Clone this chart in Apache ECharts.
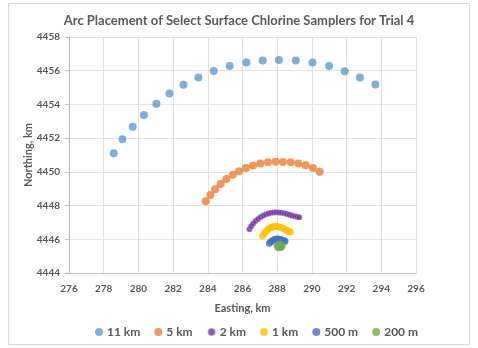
<!DOCTYPE html>
<html>
<head>
<meta charset="utf-8">
<script src="https://cdn.jsdelivr.net/npm/echarts@6/dist/echarts.min.js"></script>
<style>
  html, body { margin: 0; padding: 0; background: #fff; }
  #chart { width: 478px; height: 348px; }
</style>
</head>
<body>
<div id="chart"></div>
<script>
// Arc sampler positions [easting km, northing km]
const arc11km = [
  [278.58, 4451.10], [279.08, 4451.93], [279.67, 4452.67], [280.32, 4453.38],
  [281.04, 4454.04], [281.79, 4454.65], [282.60, 4455.17], [283.46, 4455.60],
  [284.34, 4455.99], [285.26, 4456.28], [286.22, 4456.49], [287.16, 4456.60],
  [288.10, 4456.64], [289.07, 4456.60], [290.03, 4456.49], [290.99, 4456.28],
  [291.89, 4455.97], [292.77, 4455.60], [293.66, 4455.18]
]
const arc5km = [
  [283.88, 4448.26], [284.15, 4448.62], [284.42, 4448.97], [284.74, 4449.28],
  [285.07, 4449.58], [285.44, 4449.83], [285.80, 4450.03], [286.20, 4450.23],
  [286.61, 4450.37], [287.03, 4450.49], [287.47, 4450.57], [287.91, 4450.60],
  [288.33, 4450.59], [288.78, 4450.57], [289.22, 4450.49], [289.64, 4450.39],
  [290.06, 4450.23], [290.45, 4450.01]
]
const arc2km = [
  [286.40, 4446.60], [286.50, 4446.78], [286.62, 4446.94], [286.75, 4447.08],
  [286.90, 4447.21], [287.05, 4447.32], [287.20, 4447.41], [287.35, 4447.48],
  [287.50, 4447.53], [287.65, 4447.57], [287.80, 4447.59], [287.95, 4447.60],
  [288.10, 4447.59], [288.25, 4447.57], [288.40, 4447.54], [288.55, 4447.50],
  [288.70, 4447.46], [288.85, 4447.41], [289.00, 4447.37], [289.15, 4447.33],
  [289.27, 4447.30]
]
const arc1km = [
  [287.15, 4446.20], [287.25, 4446.35], [287.35, 4446.47], [287.45, 4446.57],
  [287.55, 4446.65], [287.65, 4446.70], [287.75, 4446.74], [287.85, 4446.76],
  [287.95, 4446.76], [288.05, 4446.75], [288.15, 4446.73], [288.25, 4446.69],
  [288.35, 4446.64], [288.45, 4446.58], [288.55, 4446.53], [288.65, 4446.48],
  [288.75, 4446.43]
]
const arc500m = [
  [287.55, 4445.76], [287.62, 4445.84], [287.70, 4445.90], [287.80, 4445.96],
  [287.90, 4446.00], [288.00, 4446.01], [288.10, 4446.00], [288.20, 4445.98],
  [288.30, 4445.95], [288.40, 4445.91], [288.45, 4445.88]
]
const arc200m = [
  [288.08, 4445.60], [288.14, 4445.58], [288.20, 4445.60]
]

const seriesNames = ['11 km', '5 km', '2 km', '1 km', '500 m', '200 m']
const seriesData = [arc11km, arc5km, arc2km, arc1km, arc500m, arc200m]
const colors = ['#5B9BD5', '#ED7D31', '#7030A0', '#FFC000', '#4472C4', '#70AD47']
const sizes = [8, 8, 6, 7, 7, 10]

const textGrey = '#595959'
const font = 'Lato, "Open Sans", sans-serif'

const chart = echarts.init(document.getElementById('chart'))

const option = {
  animation: false,
  title: {
    text: 'Arc Placement of Select Surface Chlorine Samplers for Trial 4',
    left: 'center',
    top: 9,
    textStyle: { fontFamily: font, fontSize: 13, fontWeight: 'bold', color: textGrey }
  },
  graphic: [{
    type: 'rect',
    shape: { x: 8.5, y: 3.5, width: 461, height: 341 },
    style: { fill: 'none', stroke: '#D9D9D9', lineWidth: 1 },
    silent: true
  }],
  grid: { left: 69, right: 62, top: 37, bottom: 75 },
  legend: {
    bottom: 5,
    left: 90,
    itemGap: 14,
    itemWidth: 8,
    itemHeight: 8,
    icon: 'circle',
    data: seriesNames,
    textStyle: { fontFamily: font, fontSize: 12, fontWeight: 'bold', color: textGrey, padding: [0, 0, 0, -1] }
  },
  xAxis: {
    type: 'value',
    min: 276,
    max: 296,
    interval: 2,
    name: 'Easting, km',
    nameLocation: 'middle',
    nameGap: 30,
    nameTextStyle: { fontFamily: font, fontSize: 11, fontWeight: 'bold', color: textGrey },
    axisLine: { show: true, lineStyle: { color: '#BFBFBF' } },
    axisTick: { show: false },
    axisLabel: { fontFamily: font, fontSize: 10, fontWeight: 'bold', color: textGrey, margin: 11 },
    splitLine: { show: true, lineStyle: { color: '#E3E3E3' } }
  },
  yAxis: {
    type: 'value',
    min: 4444,
    max: 4458,
    interval: 2,
    name: 'Northing, km',
    nameLocation: 'middle',
    nameGap: 35,
    nameMoveOverlap: false,
    nameTextStyle: { fontFamily: font, fontSize: 11, fontWeight: 'bold', color: textGrey },
    axisLine: { show: true, lineStyle: { color: '#BFBFBF' } },
    axisTick: { show: true, length: 4, inside: false, lineStyle: { color: '#BFBFBF' } },
    axisLabel: {
      fontFamily: font, fontSize: 10, fontWeight: 'bold', color: textGrey, margin: 9,
      formatter: v => String(v)
    },
    splitLine: { show: true, lineStyle: { color: '#E3E3E3' } }
  },
  series: seriesNames.map((name, i) => ({
    name,
    type: 'scatter',
    data: seriesData[i],
    symbol: 'circle',
    symbolSize: sizes[i],
    itemStyle: {
      color: colors[i],
      borderColor: i === 2 ? 'rgba(255,255,255,0.5)' : colors[i],
      borderWidth: i === 2 ? 0.6 : 0
    }
  }))
}

chart.setOption(option)
</script>
</body>
</html>
